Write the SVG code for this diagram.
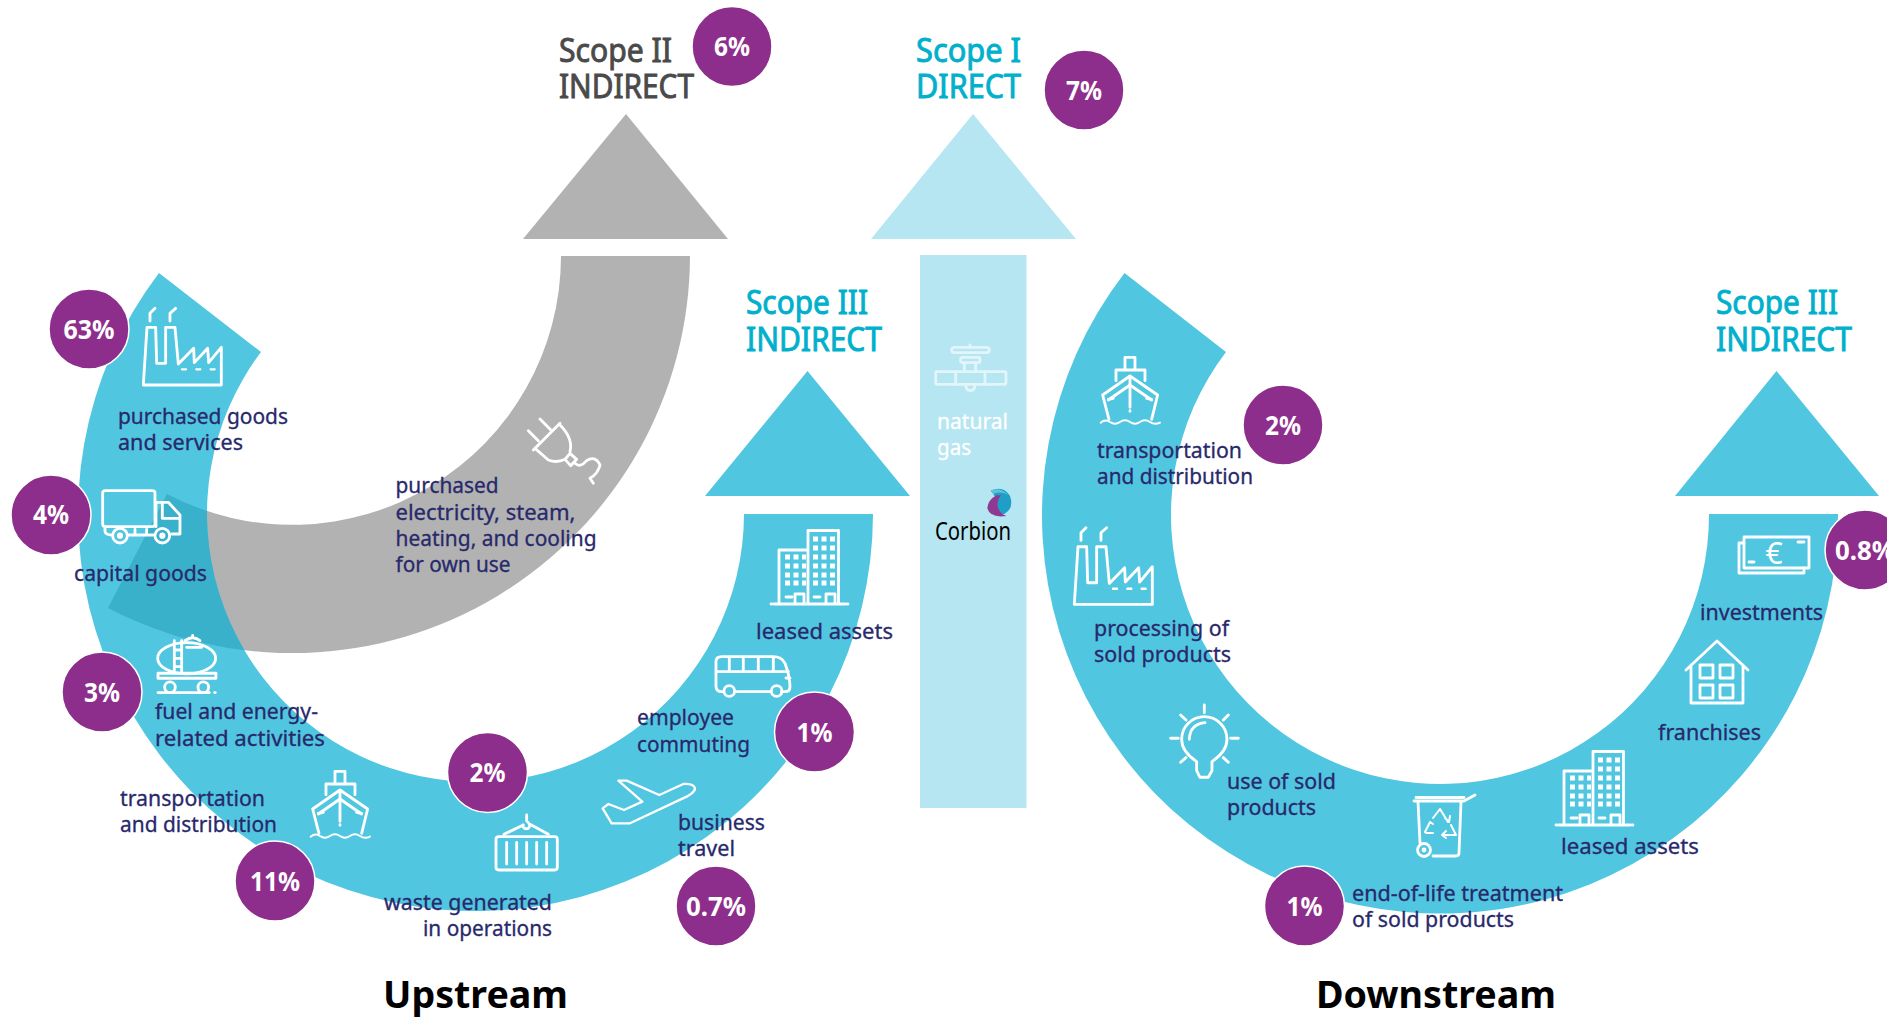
<svg xmlns="http://www.w3.org/2000/svg" xmlns:xlink="http://www.w3.org/1999/xlink" width="1887" height="1018" viewBox="0 0 1887 1018">
<style>
text{font-family:"Noto Sans","Open Sans",sans-serif}
.l{font-size:21px;fill:#28296b;stroke:#28296b;stroke-width:.3}
.w{font-size:21px;fill:#fff;stroke:#fff;stroke-width:.3}
.h{font-size:32px;font-weight:400;stroke-width:.9}
.c{fill:#00b0cc;stroke:#00b0cc}
.g{fill:#4a4a4a;stroke:#4a4a4a}
.t{font-size:37px;font-weight:700;fill:#000}
.p{font-size:27px;font-weight:700;fill:#fff;text-anchor:middle}
.b{fill:#8e2e8c;stroke:#fff;stroke-width:1.5}
.i{fill:none;stroke:#fff;stroke-linecap:round;stroke-linejoin:round;stroke-width:2.800}
.z{fill:none;stroke:#fff;stroke-linecap:round;stroke-linejoin:round;stroke-width:8.500}
.teal{fill:#51c6e0}
.grey{fill:#b2b2b2}
.pale{fill:#b5e6f2}
</style>
<defs>
<path id="upArc" d="M744,514H873A397.5,397.5 0 1 1 159,273L261,352A268.5,268.5 0 1 0 744,514Z"/>
<path id="greyArc" d="M561,256H690A398,398 0 0 1 108,608L167,494A269,269 0 0 0 561,256Z"/>
<clipPath id="greyClip"><use xlink:href="#greyArc" href="#greyArc"/></clipPath>
<g id="factory" class="z">
<path d="M430,405L441,232H467L470,340H497L497,232H525L535,342L581,295L583,338L623,295L626,338L664,292V405Z"/>
<path d="M450,213V190L465,175M510,213V190L527,175"/>
<path d="M546,358H558M589,358H601M632,358H644" stroke-width="7"/>
</g>
<g id="ship" class="z">
<path d="M675,148V112H705V148M648,182V150H735V182"/>
<path d="M608,225L690,168L773,225L755,298M608,225L627,298M625,240L690,195L755,240"/>
<path d="M690,170V262M690,272V274M625,238L640,235M755,238L740,235"/>
<path d="M602,308Q616,296 630,306Q645,316 660,306Q675,296 690,306Q705,316 720,306Q735,296 750,306Q765,316 780,308" stroke-width="6"/>
</g>
<g id="building" class="i">
<path d="M779,603V550H808V603M808,603V530.500H838.500V603M774,604H845M771,604H772M847,604H848"/>
<path d="M795,603V594H804V603M826,603V594H835V603M786,597H792M814,597H820"/>
<path d="M785,557H806M785,566H806M785,575H806M785,583H806M813,539H835M813,548H835M813,557H835M813,566H835M813,575H835M813,583H835" stroke-width="5" stroke-dasharray="5 3.500" stroke-linecap="butt"/>
</g>
</defs>

<g id="connectors">
<use xlink:href="#greyArc" href="#greyArc" class="grey"/>
<path class="grey" d="M626,114L728,239H523Z"/>
<path class="pale" d="M973,114L1076,239H871Z"/>
<rect class="pale" x="920" y="255" width="106.500" height="553"/>
<use xlink:href="#upArc" href="#upArc" class="teal"/>
<use xlink:href="#upArc" href="#upArc" fill="#3ab1ca" clip-path="url(#greyClip)"/>
<path class="teal" d="M807.500,371L910,496H705Z"/>
<path class="teal" d="M1709,514H1838A398,398 0 1 1 1124.500,273L1226,352A269,269 0 1 0 1709,514Z"/>
<path class="teal" d="M1776.500,371L1879,496H1675Z"/>
</g>

<g id="heading-scope-2">
<text class="h g" x="559" y="62" textLength="113" lengthAdjust="spacingAndGlyphs">Scope II</text>
<text class="h g" x="559" y="98" textLength="135" lengthAdjust="spacingAndGlyphs">INDIRECT</text>
</g>
<g id="heading-scope-1">
<text class="h c" x="916" y="62" textLength="105" lengthAdjust="spacingAndGlyphs">Scope I</text>
<text class="h c" x="916" y="98" textLength="105" lengthAdjust="spacingAndGlyphs">DIRECT</text>
</g>
<g id="heading-scope-3-up">
<text class="h c" x="746" y="314" textLength="122" lengthAdjust="spacingAndGlyphs">Scope III</text>
<text class="h c" x="746" y="351" textLength="136" lengthAdjust="spacingAndGlyphs">INDIRECT</text>
</g>
<g id="heading-scope-3-down">
<text class="h c" x="1716" y="314" textLength="122" lengthAdjust="spacingAndGlyphs">Scope III</text>
<text class="h c" x="1716" y="351" textLength="136" lengthAdjust="spacingAndGlyphs">INDIRECT</text>
</g>
<g id="title-upstream"><text class="t" x="383" y="1008" textLength="185" lengthAdjust="spacingAndGlyphs">Upstream</text></g>
<g id="title-downstream"><text class="t" x="1316" y="1008" textLength="240" lengthAdjust="spacingAndGlyphs">Downstream</text></g>

<g id="purchased-goods">
<use xlink:href="#factory" href="#factory" transform="translate(0,250) scale(.3333)"/>
<text class="l" x="118" y="423.500" textLength="170" lengthAdjust="spacingAndGlyphs">purchased goods</text>
<text class="l" x="118" y="449.500" textLength="125" lengthAdjust="spacingAndGlyphs">and services</text>
<circle class="b" cx="89" cy="329" r="40"/><text class="p" x="89" y="338.500" textLength="51" lengthAdjust="spacingAndGlyphs">63%</text>
</g>
<g id="capital-goods">
<g class="z" transform="translate(0,250) scale(.3333)">
<rect x="308" y="722" width="157" height="108" rx="8"/>
<path d="M468,757H505L540,795V852H515M487,760V805H537M468,760V830M315,830V845Q318,855 335,855M385,855H460M405,838V850M440,838V850"/>
<circle cx="360" cy="857" r="22"/><circle cx="360" cy="857" r="5"/>
<circle cx="487" cy="857" r="22"/><circle cx="487" cy="857" r="5"/>
</g>
<text class="l" x="74" y="580.500" textLength="133" lengthAdjust="spacingAndGlyphs">capital goods</text>
<circle class="b" cx="51" cy="515" r="40"/><text class="p" x="51" y="524" textLength="36" lengthAdjust="spacingAndGlyphs">4%</text>
</g>
<g id="fuel-energy">
<g class="z" transform="translate(0,250) scale(.3333)" stroke-width="7">
<ellipse cx="560" cy="1225" rx="87" ry="47"/>
<path d="M523,1172V1270M545,1172V1270M523,1200H545M523,1225H545M523,1250H545"/>
<path d="M555,1172Q578,1155 600,1172M578,1160V1156M560,1192H605"/>
<rect x="474" y="1270" width="174" height="15"/>
<circle cx="510" cy="1312" r="16"/><circle cx="610" cy="1312" r="16"/>
<path d="M474,1328H628M644,1328H646"/>
</g>
<text class="l" x="155" y="718.500" textLength="163" lengthAdjust="spacingAndGlyphs">fuel and energy-</text>
<text class="l" x="155" y="745.500" textLength="170" lengthAdjust="spacingAndGlyphs">related activities</text>
<circle class="b" cx="102" cy="692" r="40"/><text class="p" x="102" y="701.500" textLength="36" lengthAdjust="spacingAndGlyphs">3%</text>
</g>
<g id="transport-up">
<use xlink:href="#ship" href="#ship" transform="translate(110,734) scale(.3333)"/>
<text class="l" x="120" y="805.500" textLength="145" lengthAdjust="spacingAndGlyphs">transportation</text>
<text class="l" x="120" y="832" textLength="157" lengthAdjust="spacingAndGlyphs">and distribution</text>
<circle class="b" cx="275" cy="881" r="40"/><text class="p" x="275" y="890.500" textLength="50" lengthAdjust="spacingAndGlyphs">11%</text>
</g>
<g id="waste">
<g class="z" transform="translate(480,640) scale(.3333)" stroke-width="7">
<rect x="48" y="590" width="184" height="100" rx="8"/>
<path d="M80,607V672M110,607V672M140,607V672M170,607V672M200,607V672"/>
<path d="M140,525V543Q155,555 145,565Q130,570 128,555M72,583L130,555M150,553L205,583"/>
</g>
<text class="l" x="384" y="909.500" textLength="168" lengthAdjust="spacingAndGlyphs">waste generated</text>
<text class="l" x="423" y="935.500" textLength="129" lengthAdjust="spacingAndGlyphs">in operations</text>
<circle class="b" cx="487.500" cy="772.500" r="40"/><text class="p" x="487.500" y="782" textLength="36" lengthAdjust="spacingAndGlyphs">2%</text>
</g>
<g id="business-travel">
<path transform="translate(480,640) scale(.3333)" class="z" style="stroke-width:7" d="M415,422H440L538,465L610,432Q645,430 645,448Q640,460 620,470L450,550H395L368,505L385,492L432,510L487,485Z"/>
<text class="l" x="678" y="830" textLength="87" lengthAdjust="spacingAndGlyphs">business</text>
<text class="l" x="678" y="856" textLength="57" lengthAdjust="spacingAndGlyphs">travel</text>
<circle class="b" cx="716" cy="906" r="40"/><text class="p" x="716" y="915.500" textLength="60" lengthAdjust="spacingAndGlyphs">0.7%</text>
</g>
<g id="employee-commuting">
<g class="z" transform="translate(480,640) scale(.3333)" stroke-width="7">
<path d="M730,155H725Q708,155 708,138V65Q708,50 725,50H880Q905,50 915,70Q930,110 930,140Q930,155 915,155H905M770,155H870M708,95H925M748,52V95M790,52V95M835,52V95M880,52V95M918,114H930"/>
<circle cx="748" cy="153" r="16"/><circle cx="890" cy="153" r="16"/>
</g>
<text class="l" x="637" y="724.500" textLength="97" lengthAdjust="spacingAndGlyphs">employee</text>
<text class="l" x="637" y="751.500" textLength="113" lengthAdjust="spacingAndGlyphs">commuting</text>
<circle class="b" cx="814.500" cy="732" r="40"/><text class="p" x="814.500" y="741.500" textLength="36" lengthAdjust="spacingAndGlyphs">1%</text>
</g>
<g id="leased-assets-up">
<use xlink:href="#building" href="#building"/>
<text class="l" x="756" y="638.500" textLength="137" lengthAdjust="spacingAndGlyphs">leased assets</text>
</g>
<g id="scope-2-electricity">
<g class="z" transform="translate(510,400) scale(.3333)" stroke-width="8">
<path d="M70,150L150,70M55,92L85,122M90,57L125,92"/>
<path d="M150,75Q190,115 180,155M75,145L115,180Q140,190 165,178M165,178L180,160L200,178L182,197Z"/>
<path d="M195,190Q210,205 230,182Q255,165 270,195Q265,220 240,235L250,250"/>
</g>
<text class="l" x="395.500" y="493" textLength="103" lengthAdjust="spacingAndGlyphs">purchased</text>
<text class="l" x="395.500" y="520" textLength="180" lengthAdjust="spacingAndGlyphs">electricity, steam,</text>
<text class="l" x="395.500" y="546" textLength="201" lengthAdjust="spacingAndGlyphs">heating, and cooling</text>
<text class="l" x="395.500" y="572" textLength="115" lengthAdjust="spacingAndGlyphs">for own use</text>
<circle class="b" cx="732" cy="46.500" r="40"/><text class="p" x="732" y="56" textLength="36" lengthAdjust="spacingAndGlyphs">6%</text>
</g>
<g id="scope-1-gas">
<g class="z" transform="translate(925,340) scale(.3333)" style="stroke:#e2f5fa">
<rect x="80" y="22" width="113" height="16" rx="8"/>
<path d="M135,15V22M118,68V95M152,68V95M92,95V133M180,95V133M122,133Q122,152 136,152Q150,152 150,133"/>
<rect x="107" y="52" width="58" height="16" rx="4"/>
<rect x="32" y="95" width="211" height="38" rx="3"/>
</g>
<text class="w" x="937" y="428.500" textLength="71" lengthAdjust="spacingAndGlyphs">natural</text>
<text class="w" x="937" y="454.500" textLength="34" lengthAdjust="spacingAndGlyphs">gas</text>
<circle class="b" cx="1084" cy="90" r="40"/><text class="p" x="1084" y="100" textLength="36" lengthAdjust="spacingAndGlyphs">7%</text>
</g>
<g id="corbion">
<g transform="translate(925,340) scale(.3333)">
<path d="M197,452Q235,435 255,468Q268,505 238,522Q215,525 215,495Q215,470 197,452Z" fill="#1f9fc6"/>
<path d="M197,452Q225,440 250,465Q225,452 205,462Z" fill="#5cc3dd"/>
<path d="M215,466Q188,480 187,505Q195,535 245,528Q222,520 218,498Q216,480 228,466Z" fill="#8e3a93"/>
</g>
<text x="935" y="539.500" font-size="26" fill="#000" textLength="76" lengthAdjust="spacingAndGlyphs">Corbion</text>
</g>

<g id="transport-down">
<use xlink:href="#ship" href="#ship" transform="translate(900,320) scale(.3333)"/>
<text class="l" x="1097" y="457.500" textLength="145" lengthAdjust="spacingAndGlyphs">transportation</text>
<text class="l" x="1097" y="483.500" textLength="156" lengthAdjust="spacingAndGlyphs">and distribution</text>
<circle class="b" cx="1283" cy="425" r="40"/><text class="p" x="1283" y="434.500" textLength="36" lengthAdjust="spacingAndGlyphs">2%</text>
</g>
<g id="processing">
<use xlink:href="#factory" href="#factory" transform="translate(931,469.400) scale(.3333)"/>
<text class="l" x="1094" y="635.500" textLength="135" lengthAdjust="spacingAndGlyphs">processing of</text>
<text class="l" x="1094" y="661.500" textLength="137" lengthAdjust="spacingAndGlyphs">sold products</text>
</g>
<g id="use-of-sold">
<g class="z" transform="translate(900,320) scale(.3333)" stroke-width="7">
<path d="M890,1325Q845,1295 845,1258A68,68 0 1 1 981,1258Q981,1295 936,1325V1352L925,1372H900L890,1352ZM868,1258Q870,1212 915,1208"/>
<path d="M913,1155V1178M842,1185L858,1200M985,1185L970,1200M812,1255H835M992,1255H1015M842,1327L858,1313M985,1327L970,1313"/>
</g>
<text class="l" x="1227" y="788.500" textLength="109" lengthAdjust="spacingAndGlyphs">use of sold</text>
<text class="l" x="1227" y="814.500" textLength="89" lengthAdjust="spacingAndGlyphs">products</text>
</g>
<g id="end-of-life">
<g class="i">
<path d="M1414,801H1464L1475,795M1418,802L1420,843M1461,802L1459,853Q1459,856 1456,856H1433M1416,797.500H1464"/>
<circle cx="1424" cy="850" r="6.500"/><circle cx="1424" cy="850" r="1"/>
<path d="M1433,818L1440,809L1448,822M1445,818L1449,822L1450,816M1425,832L1430,822M1426,833H1433M1430,822L1433,824M1442,835H1456L1451,825M1442,835L1446,831M1442,835L1446,838" stroke-width="2"/>
</g>
<text class="l" x="1352" y="900.500" textLength="211" lengthAdjust="spacingAndGlyphs">end-of-life treatment</text>
<text class="l" x="1352" y="926.500" textLength="162" lengthAdjust="spacingAndGlyphs">of sold products</text>
<circle class="b" cx="1304.500" cy="906" r="40"/><text class="p" x="1304.500" y="915.500" textLength="36" lengthAdjust="spacingAndGlyphs">1%</text>
</g>
<g id="leased-assets-down">
<use xlink:href="#building" href="#building" transform="translate(785,221)"/>
<text class="l" x="1561" y="853.500" textLength="138" lengthAdjust="spacingAndGlyphs">leased assets</text>
</g>
<g id="franchises">
<g class="i">
<path d="M1686,670L1717,641L1748,670M1691,665V703H1743V665"/>
<rect x="1700" y="665" width="13" height="13"/><rect x="1720" y="665" width="13" height="13"/>
<rect x="1700" y="685" width="13" height="13"/><rect x="1720" y="685" width="13" height="13"/>
</g>
<text class="l" x="1658" y="739.500" textLength="103" lengthAdjust="spacingAndGlyphs">franchises</text>
</g>
<g id="investments">
<g class="i">
<rect x="1744" y="537" width="65" height="31"/>
<path d="M1744,543H1739V573H1804V568M1798,542H1804M1749,562H1754"/>
</g>
<text x="1774" y="564" font-size="30" fill="#fff" text-anchor="middle">€</text>
<text class="l" x="1700" y="619.500" textLength="123" lengthAdjust="spacingAndGlyphs">investments</text>
<circle class="b" cx="1865" cy="550" r="40"/><text class="p" x="1865" y="559.500" textLength="60" lengthAdjust="spacingAndGlyphs">0.8%</text>
</g>
</svg>
